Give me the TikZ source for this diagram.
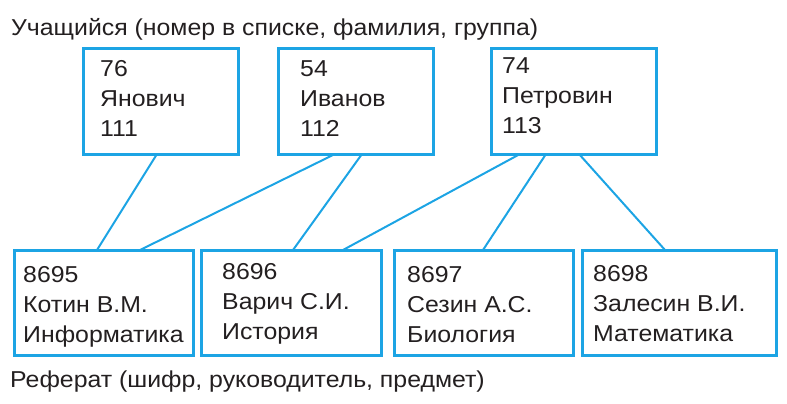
\documentclass[tikz,border=0pt]{standalone}
\usepackage{fontspec}
\setmainfont{Liberation Sans}[FakeStretch=1.08]
\definecolor{boxblue}{RGB}{28,164,228}
\definecolor{ink}{RGB}{35,31,32}
\begin{document}
\begin{tikzpicture}[x=1pt,y=-1pt,
  box/.style={draw=boxblue, line width=3pt},
  txt/.style={font=\fontsize{23}{30}\selectfont, text=ink, inner sep=0pt, align=left, anchor=base west},
  link/.style={draw=boxblue, line width=2pt}]
\useasboundingbox (0,0) rectangle (787,404);
\node[txt] (title) at (11,36) {Учащийся (номер в списке, фамилия, группа)};
\node[txt] (footer) at (10,387) {Реферат (шифр, руководитель, предмет)};
% top boxes
\draw[box] (83,49) rectangle (238,154);
\draw[box] (278,49) rectangle (433,154);
\draw[box] (491,49) rectangle (656,154);
\node[txt] (t1) at (100,136) {76\\Янович\\111};
\node[txt] (t2) at (300,136) {54\\Иванов\\112};
\node[txt] (t3) at (502,133) {74\\Петровин\\113};
% bottom boxes
\draw[box] (14,250) rectangle (193,355);
\draw[box] (201,250) rectangle (381,355);
\draw[box] (394,250) rectangle (573,355);
\draw[box] (582,250) rectangle (776,355);
\node[txt] (b1) at (23,342) {8695\\Котин В.М.\\Информатика};
\node[txt] (b2) at (222,339) {8696\\Варич С.И.\\История};
\node[txt] (b3) at (407,342) {8697\\Сезин А.С.\\Биология};
\node[txt] (b4) at (593,341) {8698\\Залесин В.И.\\Математика};
% connectors
\draw[link] (157,154) -- (97,250);
\draw[link] (335,154) -- (140,250);
\draw[link] (362,154) -- (293,250);
\draw[link] (520,154) -- (343,250);
\draw[link] (546,154) -- (483,250);
\draw[link] (579,154) -- (665,250);
\end{tikzpicture}
\end{document}
